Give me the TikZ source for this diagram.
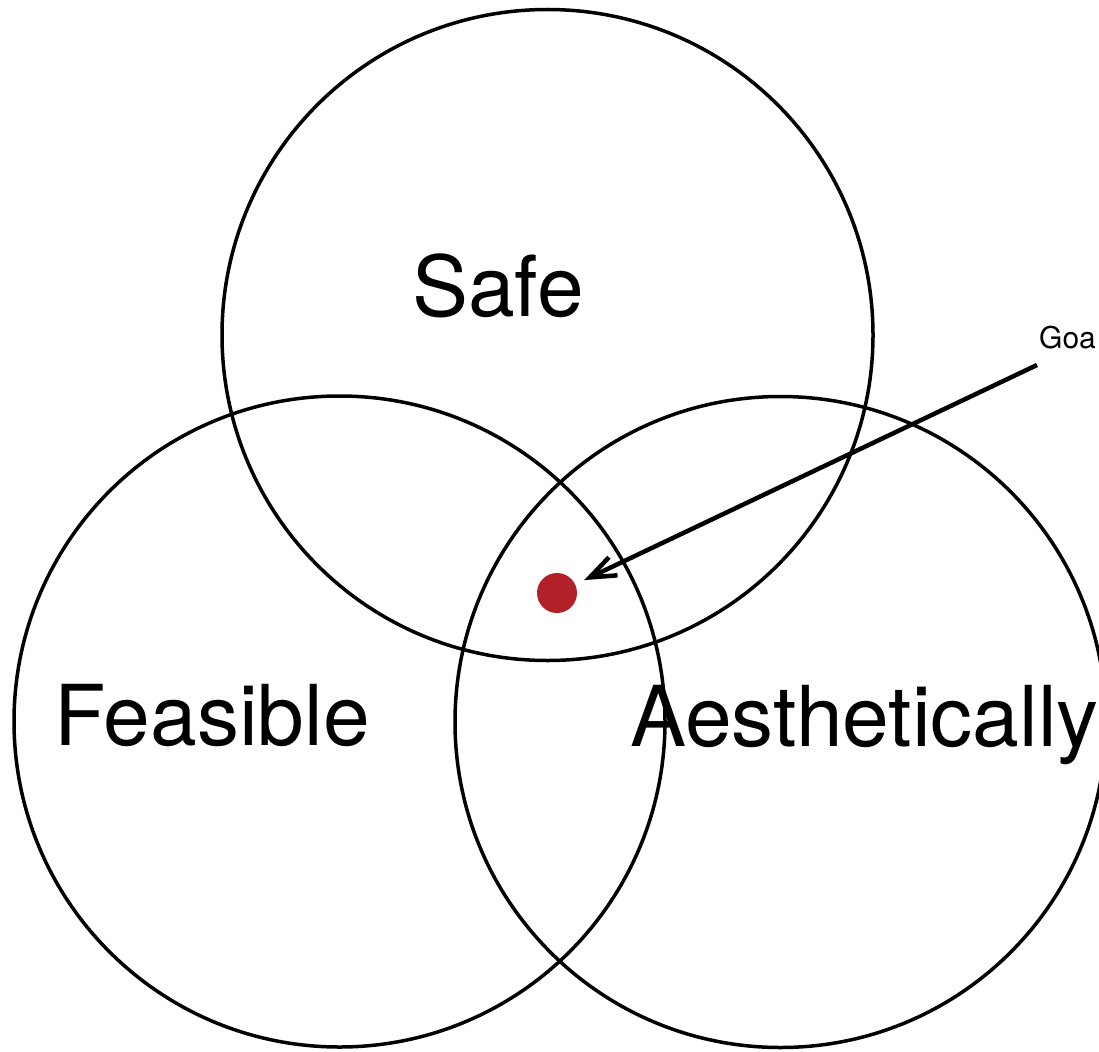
\documentclass[tikz,border=0pt]{standalone}
\usepackage{fontspec}
\setmainfont{TeX Gyre Heros}
\usetikzlibrary{arrows.meta}
\definecolor{dotred}{RGB}{178,32,40}
\tikzset{
  venn/.style={circle, draw=black, line width=3.5pt, minimum size=651pt, inner sep=0pt, outer sep=0pt},
  biglabel/.style={inner sep=0pt, font=\fontsize{84}{84}\selectfont},
  smalllabel/.style={inner sep=0pt, font=\fontsize{30}{30}\selectfont},
  pointer/.style={line width=4.5pt, -{Straight Barb[length=26pt,width=20pt,line width=4.5pt]}, shorten >=10pt},
  goaldot/.style={circle, fill=dotred, minimum size=40pt, inner sep=0pt, outer sep=0pt}
}
\begin{document}
\begin{tikzpicture}[x=1pt,y=-1pt]
\useasboundingbox (0,0) rectangle (1099,1051);
\node[venn] (safe) at (547.5,335) {};
\node[venn] (feas) at (339.5,721.5) {};
\node[venn] (aest) at (780.5,722) {};
\node[biglabel, anchor=base] (safetxt) at (498,316) {Safe};
\node[biglabel, anchor=base] (feastxt) at (212,745) {Feasible};
\node[biglabel, anchor=base west] (aesttxt) at (630,746) {Aesthetically};
\node[smalllabel, anchor=base west] (goaltxt) at (1039,348) {Goa};
\node[goaldot] (dot) at (557,593) {};
\coordinate (start) at (1037,365);
\draw[pointer] (start) -- (dot);
\end{tikzpicture}
\end{document}
